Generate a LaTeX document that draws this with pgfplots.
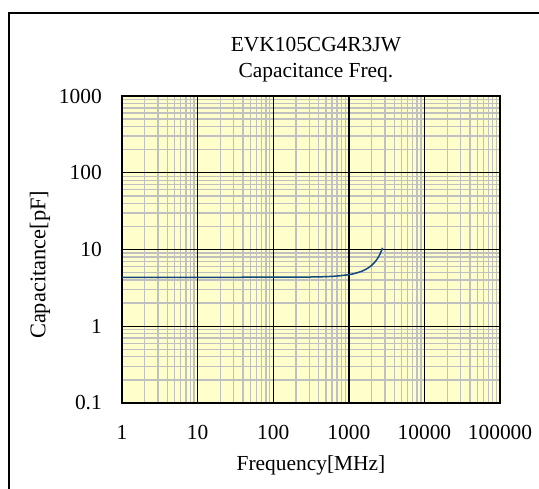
\documentclass[border=0pt]{standalone}
\usepackage{fontspec}
\setmainfont{Liberation Serif}
\usepackage{pgfplots}
\pgfplotsset{compat=1.18}
\definecolor{bgyellow}{RGB}{255,255,204}
\definecolor{mingray}{RGB}{192,192,192}
\definecolor{curveblue}{RGB}{18,72,125}
\begin{document}
\fontsize{21.5}{24}\selectfont
\begin{tikzpicture}
\path[use as bounding box] (0,0) rectangle (539bp,489bp);
\draw[line width=1.2bp] (9bp,0) -- (9bp,476bp) -- (539bp,476bp);
\begin{axis}[
  at={(122bp,86bp)}, anchor=south west,
  scale only axis, width=378bp, height=307bp,
  xmode=log, ymode=log,
  xmin=1, xmax=100000, ymin=0.1, ymax=1000,
  xtick={1,10,100,1000,10000,100000},
  xticklabels={1,10,100,1000,10000,100000},
  ytick={0.1,1,10,100,1000},
  yticklabels={0.1,1,10,100,1000},
  major tick length=0pt, minor tick length=0pt,
  grid=minor,
  minor grid style={mingray, line width=1.3bp},
  extra x ticks={1,10,100,1000,10000,100000},
  extra y ticks={0.1,1,10,100,1000},
  extra x tick labels={},
  extra y tick labels={},
  extra tick style={grid=major, major grid style={black, line width=1.4bp}},
  axis line style={black, line width=1.6bp},
  axis background/.style={fill=bgyellow},
  xticklabel style={anchor=center, yshift=-29bp, font=\fontsize{21.5}{24}\selectfont},
  yticklabel style={anchor=east, inner sep=0pt, xshift=-20bp, font=\fontsize{21.5}{24}\selectfont},
  xlabel={Frequency[MHz]},
  xlabel style={at={(axis description cs:0.5,-0.202)}, anchor=center, font=\fontsize{21.5}{24}\selectfont},
  ylabel={Capacitance[pF]},
  ylabel style={at={(axis description cs:-0.217,0.45)}, anchor=center, rotate=0, font=\fontsize{22.5}{24}\selectfont},
  title={EVK105CG4R3JW\\[2bp]Capacitance Freq.},
  title style={at={(axis description cs:0.513,1.10)}, anchor=center, align=center, font=\fontsize{21.5}{24}\selectfont},
]
\addplot[curveblue, line width=1.5bp, smooth] coordinates {
(1,4.35) (10,4.35) (100,4.353) (300,4.38) (500,4.43) (700,4.515)
(1000,4.70) (1200,4.875) (1500,5.23) (1800,5.74) (2000,6.21)
(2200,6.82) (2400,7.64) (2600,8.80) (2800,10.52)
};
\end{axis}
\end{tikzpicture}
\end{document}
